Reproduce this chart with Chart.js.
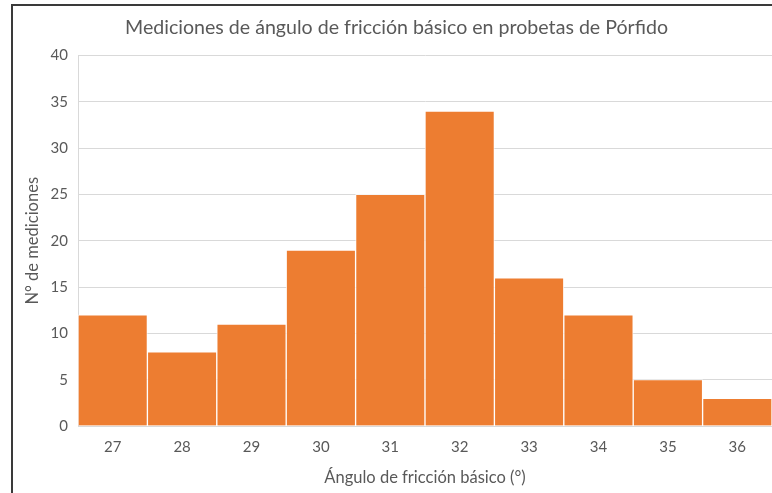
<!DOCTYPE html>
<html>
<head>
<meta charset="utf-8">
<script src="https://cdn.jsdelivr.net/npm/chart.js@4"></script>
<style>
  html, body { margin: 0; padding: 0; background: #fff; }
  #wrap { position: relative; width: 772px; height: 493px; }
</style>
</head>
<body>
<div id="wrap"><canvas id="histChart" width="772" height="493"></canvas></div>
<script>
const categories = ['27', '28', '29', '30', '31', '32', '33', '34', '35', '36'];
const counts = [12, 8, 11, 19, 25, 34, 16, 12, 5, 3];
const yTicks = [0, 5, 10, 15, 20, 25, 30, 35, 40];

const textColor = '#595959';
const gridColor = '#d9d9d9';
const fontFamily = 'Lato, "Open Sans", sans-serif';

// marco oscuro a la izquierda y arriba (como el recorte original)
const framePlugin = {
    id: 'frame',
    afterDraw(chart) {
        const ctx = chart.ctx;
        ctx.save();
        ctx.strokeStyle = '#3a3a3a';
        ctx.lineWidth = 2;
        ctx.beginPath();
        ctx.moveTo(12, chart.height);
        ctx.lineTo(12, 5);
        ctx.lineTo(chart.width, 5);
        ctx.stroke();
        ctx.restore();
    }
};

const ctx = document.getElementById('histChart').getContext('2d');
new Chart(ctx, {
    type: 'bar',
    data: {
        labels: categories,
        datasets: [{
            data: counts,
            backgroundColor: '#ED7D31',
            borderColor: 'rgba(255,255,255,0.75)',
            borderWidth: 1,
            barPercentage: 1,
            categoryPercentage: 1
        }]
    },
    options: {
        responsive: false,
        animation: false,
        layout: { padding: { left: 21, right: 0, top: 0, bottom: 0 } },
        plugins: {
            legend: { display: false },
            tooltip: { enabled: false },
            title: {
                display: true,
                text: 'Mediciones de ángulo de fricción básico en probetas de Pórfido',
                color: textColor,
                font: { family: fontFamily, size: 19.6, weight: 'normal' },
                padding: { top: 16, bottom: 16 }
            }
        },
        scales: {
            x: {
                grid: { display: false, drawTicks: false },
                border: { display: true, color: gridColor, width: 1 },
                ticks: {
                    color: textColor,
                    font: { family: fontFamily, size: 15 },
                    padding: 12,
                    maxRotation: 0
                },
                title: {
                    display: true,
                    text: 'Ángulo de fricción básico (°)',
                    color: textColor,
                    font: { family: fontFamily, size: 16.5 },
                    padding: { top: 5, bottom: 5 }
                },
                afterFit: (scale) => { scale.height = 67; }
            },
            y: {
                min: 0,
                max: 40,
                afterBuildTicks: (scale) => { scale.ticks = yTicks.map(v => ({ value: v })); },
                grid: { color: gridColor, lineWidth: 1, drawTicks: false },
                border: { display: true, color: gridColor },
                ticks: {
                    color: textColor,
                    font: { family: fontFamily, size: 15 },
                    padding: 10
                },
                title: {
                    display: true,
                    text: 'N° de mediciones',
                    color: textColor,
                    font: { family: fontFamily, size: 16.5 },
                    padding: { top: 2, bottom: 2 }
                },
                afterFit: (scale) => { scale.width = 57; }
            }
        }
    },
    plugins: [framePlugin]
});
</script>
</body>
</html>
